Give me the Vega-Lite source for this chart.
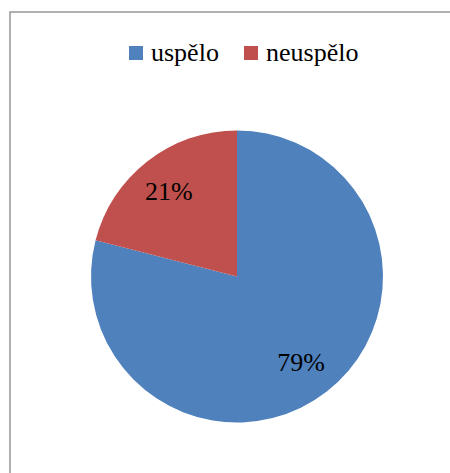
{
  "$schema": "https://vega.github.io/schema/vega-lite/v6.json",
  "width": 450,
  "height": 473,
  "autosize": {"type": "fit", "contains": "padding"},
  "padding": {"left": 10, "top": 12, "right": -10, "bottom": -10},
  "background": "white",
  "view": {"stroke": "#979797", "strokeWidth": 1.5, "fill": "white"},
  "config": {
    "font": "Liberation Serif",
    "view": {"stroke": "#979797", "strokeWidth": 1.5},
    "legend": {"labelFont": "Liberation Serif"},
    "style": {"guide-label": {"font": "Liberation Serif"}},
    "text": {"font": "Liberation Serif"}
  },
  "data": {"values": [
    {"kategorie": "uspělo", "value": 79, "label": "79%"},
    {"kategorie": "neuspělo", "value": 21, "label": "21%"}
  ]},
  "encoding": {
    "theta": {"field": "value", "type": "quantitative", "stack": true},
    "order": {"field": "value", "type": "quantitative", "sort": "descending"}
  },
  "layer": [
    {
      "mark": {"type": "arc", "outerRadius": 146, "xOffset": 2, "yOffset": 29},
      "encoding": {
        "color": {
          "field": "kategorie", "type": "nominal",
          "scale": {"domain": ["uspělo", "neuspělo"], "range": ["#4F81BD", "#C0504D"]},
          "legend": {
            "title": null, "orient": "none", "direction": "horizontal",
            "legendX": 113, "legendY": 28, "padding": 0,
            "symbolType": "square", "symbolSize": 196, "symbolStrokeWidth": 0,
            "labelFont": "Liberation Serif", "labelFontSize": 26, "labelColor": "black",
            "labelOffset": 2, "columnPadding": 19
          }
        }
      }
    },
    {
      "mark": {"type": "text", "radius": 108, "xOffset": 0, "yOffset": 30, "font": "Liberation Serif", "fontSize": 26, "color": "black"},
      "encoding": {"text": {"field": "label", "type": "nominal"}}
    }
  ]
}
